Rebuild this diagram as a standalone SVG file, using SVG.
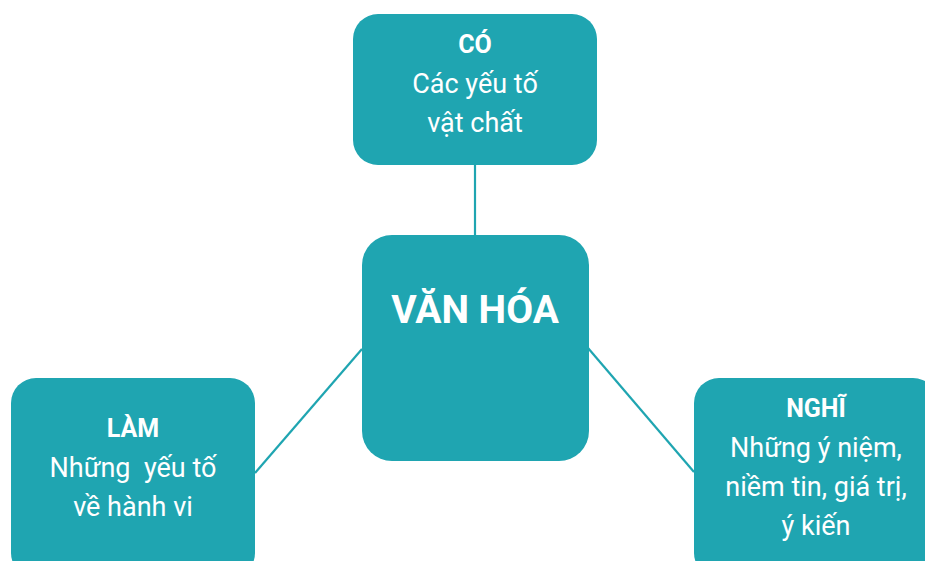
<svg xmlns="http://www.w3.org/2000/svg" width="925" height="561" viewBox="0 0 925 561">
<style>
.box{fill:#1FA5B1;}
.t{font-family:Roboto,"Liberation Sans",sans-serif;fill:#FFFFFF;text-anchor:middle;font-size:27px;}
.b{font-weight:bold;font-size:25px;}
.c{stroke:#1FA5B1;stroke-width:2.2;fill:none;}
</style>
<rect width="925" height="561" fill="#FFFFFF"/>
<g id="connectors">
<line class="c" x1="475" y1="164" x2="475" y2="236"/>
<line class="c" x1="255" y1="473" x2="362" y2="349"/>
<line class="c" x1="588" y1="348" x2="694" y2="472"/>
</g>
<g id="node-co">
<rect class="box" x="353" y="14" width="244" height="151" rx="25"/>
<text class="t b" x="475" y="53">CÓ</text>
<text class="t" x="475" y="93">Các yếu tố</text>
<text class="t" x="475" y="132">vật chất</text>
</g>
<g id="node-vanhoa">
<rect class="box" x="362" y="235" width="227" height="226" rx="30"/>
<text class="t b" x="475" y="323" style="font-size:39px">VĂN HÓA</text>
</g>
<g id="node-lam">
<rect class="box" x="11" y="378" width="244" height="200" rx="25"/>
<text class="t b" x="133" y="437">LÀM</text>
<text class="t" x="133" y="477" xml:space="preserve">Những  yếu tố</text>
<text class="t" x="133" y="516">về hành vi</text>
</g>
<g id="node-nghi">
<rect class="box" x="694" y="378" width="244" height="200" rx="25"/>
<text class="t b" x="816" y="417">NGHĨ</text>
<text class="t" x="816" y="457">Những ý niệm,</text>
<text class="t" x="816" y="496">niềm tin, giá trị,</text>
<text class="t" x="816" y="535">ý kiến</text>
</g>
</svg>
